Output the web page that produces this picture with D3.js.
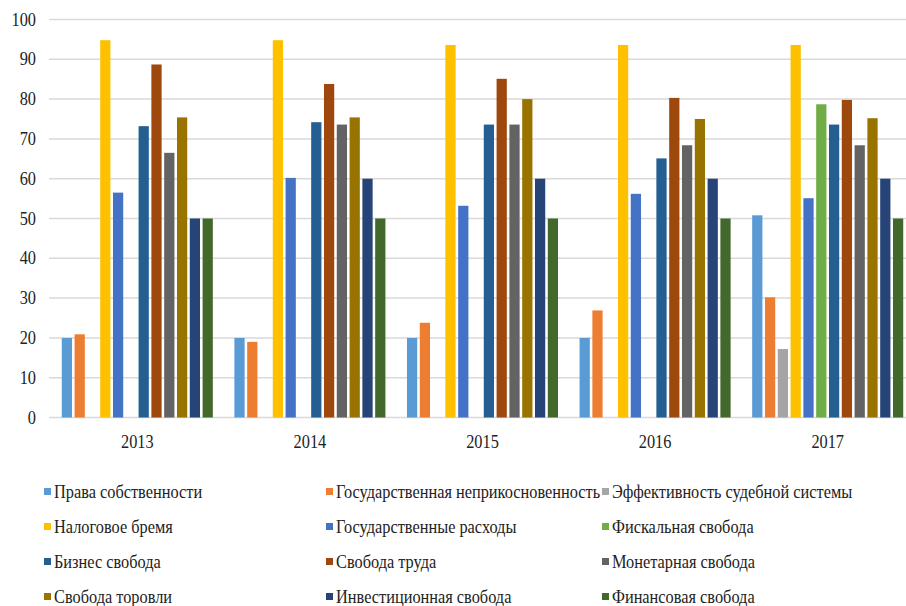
<!DOCTYPE html>
<html>
<head>
<meta charset="utf-8">
<script src="https://cdn.jsdelivr.net/npm/d3@7"></script>
<style>
  body { margin: 0; background: #fff; }
  svg { display: block; }
  text { font-family: "Liberation Serif", "DejaVu Serif", "Times New Roman", serif; fill: #222; }
</style>
</head>
<body>
<svg id="chart"></svg>
<script>
// years on the x axis
const years = ["2013", "2014", "2015", "2016", "2017"];

// index components (legend order)
const series = [
  "Права собственности",
  "Государственная неприкосновенность",
  "Эффективность судебной системы",
  "Налоговое бремя",
  "Государственные расходы",
  "Фискальная свобода",
  "Бизнес свобода",
  "Свобода труда",
  "Монетарная свобода",
  "Свобода торовли",
  "Инвестиционная свобода",
  "Финансовая свобода"
];

const colors = [
  "#5b9bd5", "#ed7d31", "#a5a5a5", "#ffc000", "#4472c4", "#70ad47",
  "#255e91", "#9e480e", "#636363", "#997300", "#264478", "#43682b"
];

// values per year, same order as series (0 = no bar)
const v2013 = [20, 20.9, 0, 94.8, 56.5, 0, 73.2, 88.7, 66.5, 75.4, 50, 50];
const v2014 = [20, 19.0, 0, 94.8, 60.2, 0, 74.2, 83.8, 73.6, 75.4, 60, 50];
const v2015 = [20, 23.8, 0, 93.6, 53.2, 0, 73.6, 85.1, 73.6, 80.0, 60, 50];
const v2016 = [20, 26.9, 0, 93.6, 56.2, 0, 65.1, 80.3, 68.4, 75.0, 60, 50];
const v2017 = [50.8, 30.2, 17.2, 93.6, 55.1, 78.7, 73.6, 79.8, 68.4, 75.2, 60, 50];
const values = [v2013, v2014, v2015, v2016, v2017];

const yTicks = [0, 10, 20, 30, 40, 50, 60, 70, 80, 90, 100];

const width = 906, height = 606;
const sx = 0.86; // narrow look of the original text
const fs = 19;

const svg = d3.select("#chart").attr("width", width).attr("height", height);

const x0 = d3.scaleBand().domain(years).range([51, 914]).paddingInner(0.11).paddingOuter(0.055);
const x1 = d3.scaleBand().domain(d3.range(series.length)).range([0, x0.bandwidth()]).paddingInner(0.2).paddingOuter(0.1);
const y = d3.scaleLinear().domain([0, 100]).range([417.5, 19.5]);

// grid lines
svg.append("g")
  .selectAll("line")
  .data(yTicks)
  .join("line")
  .attr("x1", 49)
  .attr("x2", width)
  .attr("y1", d => y(d))
  .attr("y2", d => y(d))
  .attr("stroke", "#d9d9d9")
  .attr("stroke-width", 1.5);

// y labels
svg.append("g")
  .selectAll("text")
  .data(yTicks)
  .join("text")
  .attr("transform", d => `translate(36, ${y(d) + 6}) scale(${sx},1)`)
  .attr("text-anchor", "end")
  .attr("font-size", fs)
  .text(d => d);

// bars
const groups = svg.append("g")
  .selectAll("g")
  .data(years)
  .join("g")
  .attr("transform", d => `translate(${x0(d)},0)`);

groups.selectAll("rect")
  .data((d, i) => values[i].map((v, k) => ({ k, v })))
  .join("rect")
  .attr("x", d => x1(d.k))
  .attr("width", x1.bandwidth())
  .attr("y", d => y(d.v))
  .attr("height", d => y(0) - y(d.v))
  .attr("fill", d => colors[d.k]);

// x labels
svg.append("g")
  .selectAll("text")
  .data(years)
  .join("text")
  .attr("transform", d => `translate(${x0(d) + x0.bandwidth() / 2}, 448) scale(${sx},1)`)
  .attr("text-anchor", "middle")
  .attr("font-size", fs)
  .text(d => d);

// legend, 3 columns x 4 rows
const colX = [44, 326, 602];
const rowY = [492, 527, 562, 597];

const legend = svg.append("g")
  .selectAll("g")
  .data(series)
  .join("g")
  .attr("transform", (d, i) => `translate(${colX[i % 3]}, ${rowY[Math.floor(i / 3)]})`);

legend.append("rect")
  .attr("x", 0)
  .attr("y", -4)
  .attr("width", 7)
  .attr("height", 7)
  .attr("fill", (d, i) => colors[i]);

legend.append("text")
  .attr("transform", `translate(10, 6) scale(${sx},1)`)
  .attr("font-size", fs)
  .text(d => d);
</script>
</body>
</html>
